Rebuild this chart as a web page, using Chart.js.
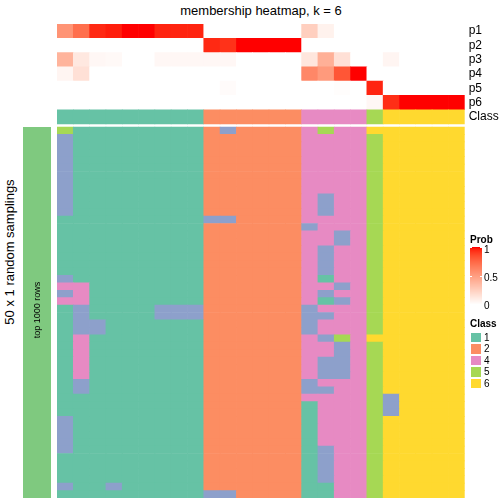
<!DOCTYPE html>
<html>
<head>
<meta charset="utf-8">
<script src="https://cdn.jsdelivr.net/npm/chart.js@4.4.1/dist/chart.umd.min.js"></script>
<style>
  body { margin: 0; background: #fff; font-family: "Liberation Sans", Arial, sans-serif; color: #000; }
  #wrap { position: relative; width: 504px; height: 504px; overflow: hidden; }
  .abs { position: absolute; white-space: nowrap; }
  #title { left: 131px; width: 260px; top: 3px; text-align: center; font-size: 13px; line-height: 16px; }
  #rowTitle { left: -90px; top: 244px; width: 200px; height: 16px; line-height: 16px; text-align: center;
              font-size: 13px; transform: rotate(-90deg); }
  #annoText { left: -13px; top: 304px; width: 100px; height: 12px; line-height: 12px; text-align: center;
              font-size: 9px; transform: rotate(-90deg); }
  .legTitle { font-size: 10px; font-weight: bold; line-height: 12px; }
  .legLabel { font-size: 10px; line-height: 12px; }
  .swatch { width: 12px; box-sizing: border-box; border: 0.5px solid #fff; }
  #heat { left: 57px; top: 24px; }
  #side { left: 23px; top: 127px; }
</style>
</head>
<body>
<div id="wrap">
  <canvas id="heat" class="abs" width="447" height="474"></canvas>
  <canvas id="side" class="abs" width="28" height="371"></canvas>
  <div id="title" class="abs">membership heatmap, k = 6</div>
  <div id="rowTitle" class="abs">50 x 1 random samplings</div>
  <div id="annoText" class="abs">top 1000 rows</div>
</div>
<script>
// column classes (25 samples)
const columnClass = [1,1,1,1,1,1,1,1,1, 2,2,2,2,2,2, 4,4,4,4, 5, 6,6,6,6,6];

// membership probabilities p1..p6 per sample
const p1 = [0.55,0.72,0.95,0.97,1,1,0.96,0.96,0.96, 0,0,0,0,0,0, 0.25,0.07,0,0, 0, 0,0,0,0,0];
const p2 = [0,0,0,0,0,0,0,0,0, 0.95,0.93,1,1,1,1, 0,0,0,0, 0, 0,0,0,0,0];
const p3 = [0.39,0.12,0.04,0.03,0,0,0.04,0.04,0.04, 0.04,0.04,0,0,0,0, 0.13,0.41,0.16,0, 0, 0.05,0,0,0,0];
const p4 = [0.05,0.16,0,0,0,0,0,0,0, 0,0,0,0,0,0, 0.61,0.52,0.82,1, 0, 0,0,0,0,0];
const p5 = [0,0,0,0,0,0,0,0,0, 0,0.02,0,0,0,0, 0,0,0.01,0, 0.96, 0,0,0,0,0];
const p6 = [0,0,0,0,0,0,0,0,0, 0,0,0,0,0,0, 0,0,0,0, 0.04, 0.94,1,1,1,1];
const membership = [p1, p2, p3, p4, p5, p6];

// class found in each of the 50 samplings where it differs from the column class: [row, col, class]
const samplingDiffs = [
  [0,0,5],[0,10,3],[0,16,5],[0,19,6],
  [1,0,3],[2,0,3],[3,0,3],[4,0,3],[5,0,3],[6,0,3],[7,0,3],[8,0,3],
  [9,0,3],[9,16,3],[10,0,3],[10,16,3],[11,0,3],[11,16,3],
  [12,9,3],[12,10,3],
  [13,15,3],
  [14,17,3],[15,17,3],
  [16,16,3],[17,16,3],[18,16,3],[19,16,3],
  [20,0,3],[20,16,1],
  [21,0,4],[21,1,4],[21,17,3],
  [22,0,3],[22,1,4],[22,16,3],
  [23,0,4],[23,1,4],[23,16,1],[23,17,3],
  [24,1,3],[24,6,3],[24,7,3],[24,8,3],[24,15,3],
  [25,1,3],[25,6,3],[25,7,3],[25,8,3],[25,15,3],[25,16,3],
  [26,1,3],[26,2,3],[26,15,3],
  [27,1,3],[27,2,3],[27,15,3],
  [28,1,4],[28,16,3],[28,17,5],[28,19,6],
  [29,1,4],[29,17,3],[30,1,4],[30,17,3],
  [31,1,4],[31,16,3],[31,17,3],
  [32,1,4],[32,16,3],[32,17,3],
  [33,1,4],[33,16,3],[33,17,3],
  [34,1,3],[34,15,3],
  [35,1,3],[35,15,3],[35,16,3],
  [36,20,3],
  [37,15,1],[37,20,3],[38,15,1],[38,20,3],
  [39,0,3],[39,15,1],[40,0,3],[40,15,1],[41,0,3],[41,15,1],[42,0,3],[42,15,1],
  [43,0,3],[43,15,1],[43,16,3],
  [44,15,1],[44,16,3],[45,15,1],[45,16,3],[46,15,1],[46,16,3],[47,15,1],[47,16,3],
  [48,0,3],[48,3,3],[48,15,1],[48,16,1],
  [49,9,3],[49,10,3],[49,15,1],[49,16,1]
];

const classColors = { 1: '#66C2A5', 2: '#FC8D62', 3: '#8DA0CB', 4: '#E78AC3', 5: '#A6D854', 6: '#FFD92F' };
const legendClasses = [1, 2, 4, 5, 6];
const rowLabels = ['p1', 'p2', 'p3', 'p4', 'p5', 'p6', 'Class'];
const N_SAMPLINGS = 50;

// layout (in main-row units)
const GAP = 0.404;
const TOP_H = 1.926;
const TOTAL = N_SAMPLINGS + GAP + TOP_H * 7;
const FONT = '"Liberation Sans", Arial, sans-serif';

// white -> red in Lab space
function toLin(c) { c /= 255; return c <= 0.04045 ? c / 12.92 : Math.pow((c + 0.055) / 1.055, 2.4); }
function fromLin(c) { c = c <= 0.0031308 ? 12.92 * c : 1.055 * Math.pow(c, 1 / 2.4) - 0.055; return Math.round(Math.max(0, Math.min(1, c)) * 255); }
function rgbToLab(r, g, b) {
  r = toLin(r); g = toLin(g); b = toLin(b);
  const x = (0.4124 * r + 0.3576 * g + 0.1805 * b) / 0.95047;
  const y = (0.2126 * r + 0.7152 * g + 0.0722 * b);
  const z = (0.0193 * r + 0.1192 * g + 0.9505 * b) / 1.08883;
  const f = t => t > 0.008856 ? Math.cbrt(t) : 7.787 * t + 16 / 116;
  const fx = f(x), fy = f(y), fz = f(z);
  return [116 * fy - 16, 500 * (fx - fy), 200 * (fy - fz)];
}
function labToRgb(L, a, b) {
  const fy = (L + 16) / 116, fx = fy + a / 500, fz = fy - b / 200;
  const inv = t => t > 0.206893 ? t * t * t : (t - 16 / 116) / 7.787;
  const x = inv(fx) * 0.95047, y = inv(fy), z = inv(fz) * 1.08883;
  const r = 3.2406 * x - 1.5372 * y - 0.4986 * z;
  const g = -0.9689 * x + 1.8758 * y + 0.0415 * z;
  const bl = 0.0557 * x - 0.2040 * y + 1.0570 * z;
  return 'rgb(' + fromLin(r) + ',' + fromLin(g) + ',' + fromLin(bl) + ')';
}
const WHITE_LAB = rgbToLab(255, 255, 255);
const RED_LAB = rgbToLab(255, 0, 0);
function probColor(t) {
  return labToRgb(
    WHITE_LAB[0] + (RED_LAB[0] - WHITE_LAB[0]) * t,
    WHITE_LAB[1] + (RED_LAB[1] - WHITE_LAB[1]) * t,
    WHITE_LAB[2] + (RED_LAB[2] - WHITE_LAB[2]) * t);
}

// build sampling matrix
const matrix = [];
for (let r = 0; r < N_SAMPLINGS; r++) matrix.push(columnClass.slice());
samplingDiffs.forEach(function(d) { matrix[d[0]][d[1]] = d[2]; });

const samples = columnClass.map((c, i) => 'S' + (i + 1));
const datasets = [];
for (let r = N_SAMPLINGS - 1; r >= 0; r--) {
  datasets.push({ data: samples.map(() => 1), backgroundColor: matrix[r].map(c => classColors[c]) });
}
datasets.push({ data: samples.map(() => GAP), backgroundColor: 'rgba(0,0,0,0)' });
datasets.push({ data: samples.map(() => TOP_H), backgroundColor: columnClass.map(c => classColors[c]) });
for (let k = 5; k >= 0; k--) {
  datasets.push({ data: samples.map(() => TOP_H), backgroundColor: membership[k].map(probColor) });
}

// centres of the labelled top rows, p1 at the top
const labelPos = rowLabels.map((name, i) => TOTAL - TOP_H * (i + 0.5));

new Chart(document.getElementById('heat'), {
  type: 'bar',
  data: { labels: samples, datasets: datasets },
  options: {
    responsive: false,
    animation: false,
    layout: { padding: 0 },
    datasets: { bar: { barPercentage: 1, categoryPercentage: 1, borderWidth: 0 } },
    plugins: { legend: { display: false }, tooltip: { enabled: false } },
    scales: {
      x: { display: false, stacked: true },
      y: { display: false, stacked: true, min: 0, max: TOTAL },
      yr: {
        position: 'right', min: 0, max: TOTAL,
        grid: { display: false, drawTicks: false },
        border: { display: false },
        afterBuildTicks: function(scale) { scale.ticks = labelPos.map(v => ({ value: v })); },
        afterFit: function(scale) {
          scale.width = 39.3;
          scale.paddingTop = 0;
          scale.paddingBottom = 0;
        },
        ticks: {
          autoSkip: false, padding: 4, color: '#000',
          font: { family: FONT, size: 12 },
          callback: function(v, i) { return rowLabels[i]; }
        }
      }
    }
  }
});

new Chart(document.getElementById('side'), {
  type: 'bar',
  data: { labels: ['top 1000 rows'], datasets: [{ data: [1], backgroundColor: '#7FC97F' }] },
  options: {
    responsive: false,
    animation: false,
    layout: { padding: 0 },
    datasets: { bar: { barPercentage: 1, categoryPercentage: 1, borderWidth: 0 } },
    plugins: { legend: { display: false }, tooltip: { enabled: false } },
    scales: { x: { display: false }, y: { display: false, min: 0, max: 1 } }
  }
});

// legends
function addDiv(cls, css, text) {
  const d = document.createElement('div');
  d.className = 'abs ' + cls;
  Object.assign(d.style, css);
  if (text !== undefined) d.textContent = text;
  document.getElementById('wrap').appendChild(d);
  return d;
}

addDiv('legTitle', { left: '470px', top: '234px' }, 'Prob');
const grad = document.createElement('canvas');
grad.width = 12; grad.height = 58;
grad.className = 'abs';
Object.assign(grad.style, { left: '470px', top: '247px' });
document.getElementById('wrap').appendChild(grad);
const gctx = grad.getContext('2d');
for (let y = 0; y < 58; y++) {
  gctx.fillStyle = probColor(1 - y / 57);
  gctx.fillRect(0, y, 12, 1);
}
gctx.fillStyle = '#fff';
[0, 29, 57].forEach(function(y) { gctx.fillRect(0, y, 2, 1); gctx.fillRect(10, y, 2, 1); });
addDiv('legLabel', { left: '484px', top: '244px' }, '1');
addDiv('legLabel', { left: '484px', top: '272px' }, '0.5');
addDiv('legLabel', { left: '484px', top: '300px' }, '0');

addDiv('legTitle', { left: '470px', top: '318px' }, 'Class');
legendClasses.forEach(function(c, i) {
  const top = 332 + i * 11.4;
  addDiv('swatch', { left: '470px', top: top + 'px', height: '11.4px', background: classColors[c] });
  addDiv('legLabel', { left: '484px', top: (top) + 'px' }, String(c));
});
</script>
</body>
</html>
